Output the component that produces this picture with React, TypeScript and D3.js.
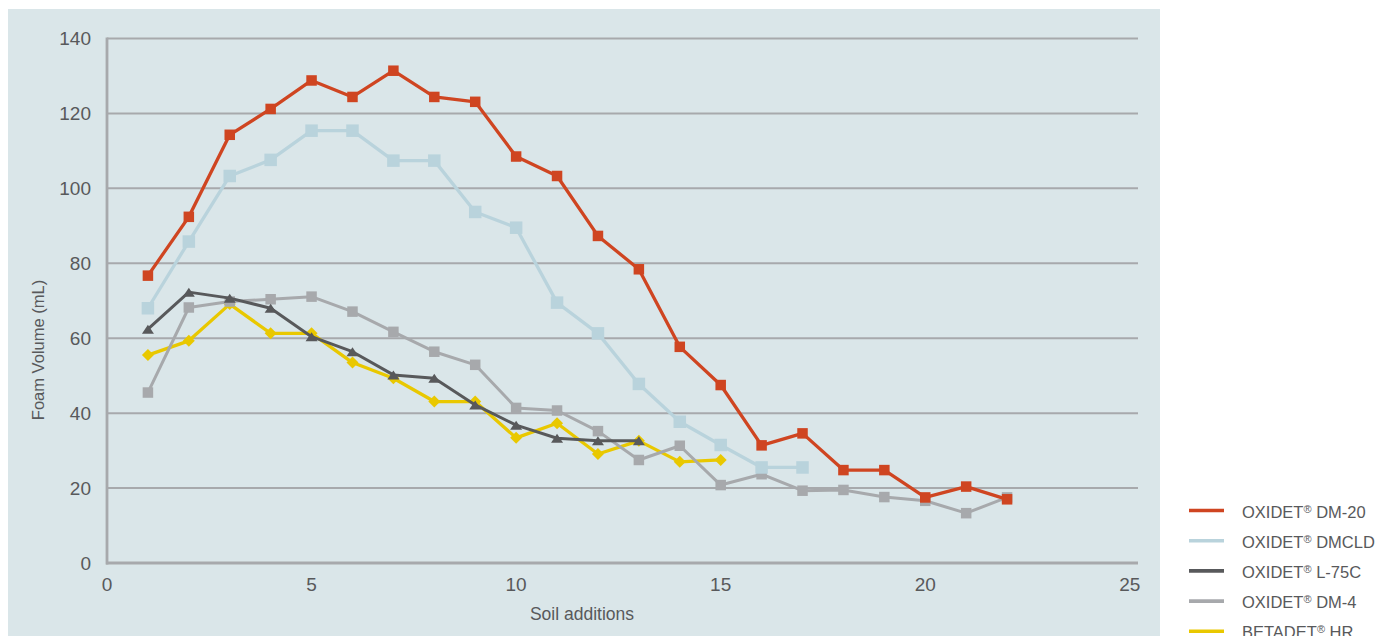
import React from "react";
import * as d3 from "d3";

const soilAdditions = d3.range(1, 23);

const dm20 = [76.7, 92.4, 114.3, 121.2, 128.8, 124.4, 131.4, 124.4, 123.1, 108.5, 103.3, 87.3, 78.4, 57.7, 47.5, 31.4, 34.6, 24.8, 24.8, 17.5, 20.4, 17.0];
const dmcld = [68.0, 85.8, 103.3, 107.6, 115.4, 115.4, 107.4, 107.4, 93.7, 89.5, 69.5, 61.3, 47.8, 37.7, 31.5, 25.5, 25.5];
const l75c = [62.4, 72.3, 70.7, 68.0, 60.4, 56.4, 50.2, 49.3, 42.2, 36.8, 33.3, 32.6, 32.6];
const dm4 = [45.5, 68.2, 69.8, 70.4, 71.1, 67.1, 61.7, 56.4, 52.9, 41.4, 40.7, 35.2, 27.5, 31.3, 20.8, 23.7, 19.3, 19.5, 17.6, 16.6, 13.3, 17.5];
const betadetHr = [55.5, 59.3, 69.1, 61.3, 61.3, 53.5, 49.3, 43.1, 43.1, 33.4, 37.3, 29.1, 32.6, 27.0, 27.5];

const xTicks = [0, 5, 10, 15, 20, 25];
const yTicks = [0, 20, 40, 60, 80, 100, 120, 140];

type Series = {
  name: string;
  values: number[];
  color: string;
  marker: "square" | "bigsquare" | "triangle" | "diamond";
  width: number;
};

const seriesList: Series[] = [
  { name: "OXIDET® DM-20", values: dm20, color: "#cf4521", marker: "square", width: 3.3 },
  { name: "OXIDET® DMCLD", values: dmcld, color: "#b9d3dc", marker: "bigsquare", width: 3.3 },
  { name: "OXIDET® L-75C", values: l75c, color: "#58595b", marker: "triangle", width: 3 },
  { name: "OXIDET® DM-4", values: dm4, color: "#a7a9ac", marker: "square", width: 3 },
  { name: "BETADET® HR", values: betadetHr, color: "#e9c800", marker: "diamond", width: 3.3 },
];

const drawOrder = [4, 3, 1, 2, 0];

const FONT = "'Liberation Sans', Arial, Helvetica, sans-serif";
const TEXT = "#58595b";
const GRID = "#a7a9ac";

export default function App() {
  const x = d3.scaleLinear().domain([0, 25.2]).range([107, 1138]);
  const y = d3.scaleLinear().domain([0, 140]).range([563, 38.5]);

  const line = d3
    .line<[number, number]>()
    .x((d) => x(d[0]))
    .y((d) => y(d[1]));

  const marker = (s: Series, cx: number, cy: number, key: string) => {
    if (s.marker === "square" || s.marker === "bigsquare") {
      const sz = s.marker === "bigsquare" ? 12.5 : 10.5;
      return <rect key={key} x={cx - sz / 2} y={cy - sz / 2} width={sz} height={sz} fill={s.color} />;
    }
    if (s.marker === "triangle") {
      const w = 12, h = 9;
      return (
        <path
          key={key}
          d={`M${cx - w / 2},${cy + h / 2}L${cx + w / 2},${cy + h / 2}L${cx},${cy - h / 2}Z`}
          fill={s.color}
        />
      );
    }
    const r = 6;
    return (
      <path key={key} d={`M${cx},${cy - r}L${cx + r},${cy}L${cx},${cy + r}L${cx - r},${cy}Z`} fill={s.color} />
    );
  };

  return (
    <svg
      width={1386}
      height={636}
      style={{ position: "absolute", left: 0, top: 0, background: "#ffffff" }}
      fontFamily={FONT}
    >
      <rect x={8} y={9} width={1152} height={640} fill="#dae6e9" />

      {yTicks.filter((t) => t > 0).map((t) => (
        <line key={"g" + t} x1={107} x2={1138} y1={y(t)} y2={y(t)} stroke={GRID} strokeWidth={2} />
      ))}
      <line x1={107} x2={107} y1={y(140) - 1} y2={y(0) + 1.4} stroke={GRID} strokeWidth={2.8} />
      <line x1={106} x2={1138} y1={y(0)} y2={y(0)} stroke={GRID} strokeWidth={2.8} />

      {yTicks.map((t) => (
        <text key={"yt" + t} x={91} y={y(t)} dy="0.36em" textAnchor="end" fontSize={19} fill={TEXT}>
          {t}
        </text>
      ))}
      {xTicks.map((t) => (
        <text key={"xt" + t} x={x(t)} y={591} textAnchor="middle" fontSize={19} fill={TEXT}>
          {t}
        </text>
      ))}

      <text x={582} y={620} textAnchor="middle" fontSize={17.5} fill={TEXT}>
        Soil additions
      </text>
      <text
        transform={`translate(44,350) rotate(-90)`}
        textAnchor="middle"
        fontSize={16.5}
        fill={TEXT}
      >
        Foam Volume (mL)
      </text>

      {drawOrder.map((i) => {
        const s = seriesList[i];
        const pts: [number, number][] = s.values.map((v, j) => [soilAdditions[j], v]);
        return (
          <g key={s.name}>
            <path d={line(pts) || ""} fill="none" stroke={s.color} strokeWidth={s.width} strokeLinejoin="round" />
            {pts.map((p, j) => marker(s, x(p[0]), y(p[1]), s.name + j))}
          </g>
        );
      })}

      {seriesList.map((s, i) => {
        const ly = 510.5 + i * 30.2;
        const parts = s.name.split("®");
        return (
          <g key={"lg" + s.name}>
            <line x1={1189} x2={1224} y1={ly} y2={ly} stroke={s.color} strokeWidth={3.6} />
            <text x={1242} y={ly + 7} fontSize={16.5} fill={TEXT}>
              {parts[0]}
              <tspan fontSize={11} dy={-5}>®</tspan>
              <tspan dy={5}>{parts[1]}</tspan>
            </text>
          </g>
        );
      })}
    </svg>
  );
}
